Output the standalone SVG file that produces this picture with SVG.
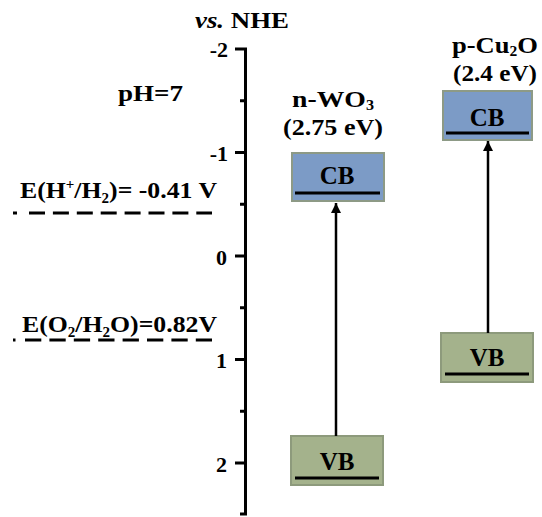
<svg xmlns="http://www.w3.org/2000/svg" width="542" height="517" viewBox="0 0 542 517" font-family="'Liberation Serif','Times New Roman',serif" font-weight="bold">
<style>
text{font-family:"Liberation Serif","Times New Roman",serif;font-weight:700;fill:#000}
.lbl{font-size:24px}
.tk{font-size:22px;text-anchor:end}
.band{font-size:25px;text-anchor:middle}
.cb{fill:#7c9bc6;stroke:#8d9a86;stroke-width:2}
.vb{fill:#a4b28c;stroke:#8d9a7c;stroke-width:2}
.lvl{stroke:#000;stroke-width:3}
.ax{stroke:#000;stroke-width:3;fill:none}
.dash{stroke:#000;stroke-width:3;fill:none}
.arr{stroke:#000;stroke-width:2.5;fill:none;marker-end:url(#ah)}
.s{font-size:14px}
</style>
<defs>
<marker id="ah" viewBox="0 0 10 10" refX="10" refY="5" markerWidth="4" markerHeight="4" orient="auto" markerUnits="strokeWidth">
<path d="M0,0 L10,5 L0,10 z" fill="#000"/>
</marker>
</defs>
<g id="axis">
<text x="195" y="28" textLength="94" lengthAdjust="spacingAndGlyphs" style="font-size:24px"><tspan font-style="italic">vs.</tspan> NHE</text>
<path class="ax" d="M245.5,49 V515"/>
<path class="ax" d="M235,49 H247 M235,152.5 H247 M235,256 H247 M235,359.5 H247 M235,463 H247"/>
<path class="ax" d="M240,100.75 H247 M240,204.25 H247 M240,307.75 H247 M240,411.25 H247 M240,514 H247"/>
<text class="tk" x="228" y="57">-2</text>
<text class="tk" x="228" y="161">-1</text>
<text class="tk" x="227" y="265">0</text>
<text class="tk" x="227" y="368">1</text>
<text class="tk" x="227" y="472">2</text>
</g>
<g id="ph">
<text class="lbl" x="118" y="101" textLength="65" lengthAdjust="spacingAndGlyphs">pH=7</text>
</g>
<g id="h2-level">
<text class="lbl" x="20" y="198" textLength="197" lengthAdjust="spacingAndGlyphs">E(H<tspan class="s" dy="-9">+</tspan><tspan dy="9">/H</tspan><tspan class="s" dy="5">2</tspan><tspan dy="-5">)= -0.41 V</tspan></text>
<path class="dash" d="M13,213 H17"/>
<path class="dash" d="M29,213 H212" stroke-dasharray="16 7.9"/>
</g>
<g id="o2-level">
<text class="lbl" x="22" y="332" textLength="195" lengthAdjust="spacingAndGlyphs">E(O<tspan class="s" dy="5">2</tspan><tspan dy="-5">/H</tspan><tspan class="s" dy="5">2</tspan><tspan dy="-5">O)=0.82V</tspan></text>
<path class="dash" d="M13,340 H15.5"/>
<path class="dash" d="M25,340 H212" stroke-dasharray="16.3 8.1"/>
</g>
<g id="wo3-label">
<text class="lbl" x="292" y="107" textLength="82" lengthAdjust="spacingAndGlyphs">n-WO<tspan class="s" dy="3">3</tspan></text>
<text class="lbl" x="283" y="135" textLength="100" lengthAdjust="spacingAndGlyphs">(2.75 eV)</text>
</g>
<g id="wo3-cb">
<rect class="cb" x="292" y="153" width="92" height="48"/>
<text class="band" x="337" y="184">CB</text>
<line class="lvl" x1="295" y1="193" x2="380" y2="193"/>
</g>
<g id="wo3-vb">
<rect class="vb" x="291" y="436" width="92" height="49"/>
<text class="band" x="337" y="470">VB</text>
<line class="lvl" x1="295" y1="478" x2="379" y2="478"/>
</g>
<g id="cu2o-label">
<text class="lbl" x="452" y="53" textLength="86" lengthAdjust="spacingAndGlyphs">p-Cu<tspan class="s" dy="3">2</tspan><tspan dy="-3">O</tspan></text>
<text class="lbl" x="453" y="81" textLength="84" lengthAdjust="spacingAndGlyphs">(2.4 eV)</text>
</g>
<g id="cu2o-cb">
<rect class="cb" x="443" y="91" width="89" height="49"/>
<text class="band" x="487" y="126">CB</text>
<line class="lvl" x1="446" y1="133" x2="529" y2="133"/>
</g>
<g id="cu2o-vb">
<rect class="vb" x="441" y="333" width="92" height="49"/>
<text class="band" x="487" y="366">VB</text>
<line class="lvl" x1="445" y1="374" x2="529" y2="374"/>
</g>
<g id="connectors">
<line class="arr" x1="336" y1="436" x2="336" y2="203"/>
<line class="arr" x1="488" y1="333" x2="488" y2="141"/>
</g>
</svg>
